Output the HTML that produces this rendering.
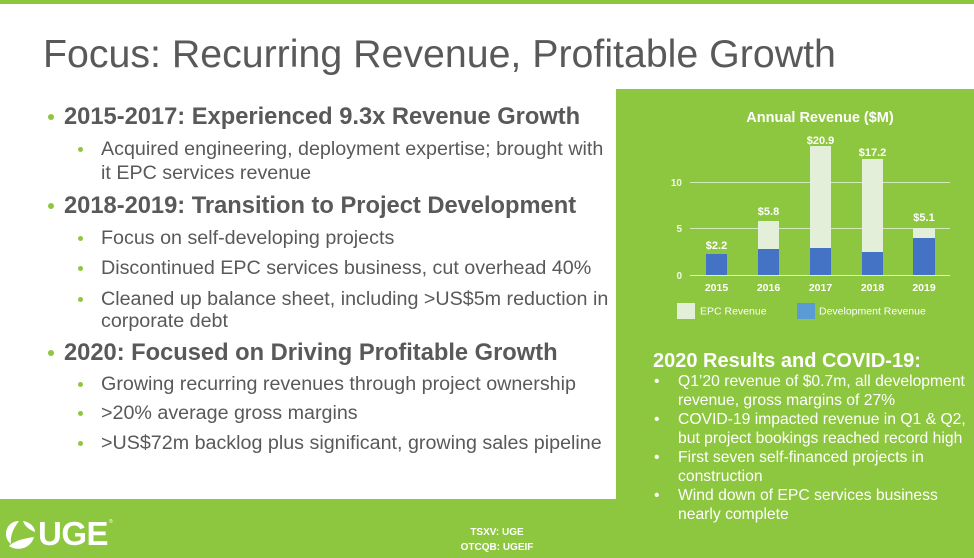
<!DOCTYPE html>
<html>
<head>
<meta charset="utf-8">
<style>
  html,body{margin:0;padding:0;}
  body{width:974px;height:558px;position:relative;overflow:hidden;background:#ffffff;font-family:"Liberation Sans",Arial,sans-serif;}
  .abs{position:absolute;white-space:nowrap;}
  .topbar{position:absolute;left:0;top:0;width:974px;height:4px;background:#8dc63f;}
  .band{position:absolute;left:0;top:499px;width:974px;height:59px;background:#8dc63f;}
  .panel{position:absolute;left:616px;top:89px;width:358px;height:469px;background:#8dc63f;}
  .title{left:43px;top:31px;font-size:39.3px;line-height:46px;color:#595959;}
  .l1{font-size:23.7px;line-height:28px;font-weight:bold;color:#595959;left:64px;}
  .l2{font-size:19.7px;line-height:24px;color:#595959;left:101px;}
  .d1{position:absolute;width:6px;height:6px;border-radius:50%;background:#8dc63f;left:48px;}
  .d2{position:absolute;width:5px;height:5px;border-radius:50%;background:#8dc63f;left:78px;}
  .rh{left:653px;font-size:20px;line-height:24px;font-weight:bold;color:#ffffff;}
  .rt{left:678px;font-size:15.7px;line-height:19px;color:#ffffff;}
  .rb{left:654px;font-size:15.7px;line-height:19px;color:#ffffff;}
  .tick{left:0;width:974px;text-align:center;font-size:10px;font-weight:bold;color:#ffffff;line-height:12px;}
</style>
</head>
<body>
<div class="topbar"></div>
<div class="band"></div>
<div class="panel"></div>

<div class="abs title">Focus: Recurring Revenue, Profitable Growth</div>

<div class="d1" style="top:114px;"></div>
<div class="abs l1" style="top:103px;">2015-2017: Experienced 9.3x Revenue Growth</div>
<div class="d2" style="top:147px;"></div>
<div class="abs l2" style="top:137px;">Acquired engineering, deployment expertise; brought with</div>
<div class="abs l2" style="top:161px;">it EPC services revenue</div>

<div class="d1" style="top:203px;"></div>
<div class="abs l1" style="top:192px;">2018-2019: Transition to Project Development</div>
<div class="d2" style="top:236px;"></div>
<div class="abs l2" style="top:226px;">Focus on self-developing projects</div>
<div class="d2" style="top:266px;"></div>
<div class="abs l2" style="top:256px;">Discontinued EPC services business, cut overhead 40%</div>
<div class="d2" style="top:297px;"></div>
<div class="abs l2" style="top:287px;">Cleaned up balance sheet, including &gt;US$5m reduction in</div>
<div class="abs l2" style="top:309px;">corporate debt</div>

<div class="d1" style="top:350px;"></div>
<div class="abs l1" style="top:339px;">2020: Focused on Driving Profitable Growth</div>
<div class="d2" style="top:382px;"></div>
<div class="abs l2" style="top:372px;">Growing recurring revenues through project ownership</div>
<div class="d2" style="top:411px;"></div>
<div class="abs l2" style="top:401px;">&gt;20% average gross margins</div>
<div class="d2" style="top:441px;"></div>
<div class="abs l2" style="top:431px;">&gt;US$72m backlog plus significant, growing sales pipeline</div>

<!-- Chart -->
<svg class="abs" style="left:0;top:0;" width="974" height="558" viewBox="0 0 974 558" xmlns="http://www.w3.org/2000/svg">
  <g font-family="Liberation Sans, Arial, sans-serif" fill="#ffffff">
    <text x="820" y="122" font-size="14.5" font-weight="bold" text-anchor="middle">Annual Revenue ($M)</text>
    <line x1="690" y1="182.5" x2="950" y2="182.5" stroke="#d3e8b8" stroke-width="1"/>
    <line x1="690" y1="228.5" x2="950" y2="228.5" stroke="#d3e8b8" stroke-width="1"/>
    <line x1="690" y1="275.5" x2="950" y2="275.5" stroke="#e0f0cc" stroke-width="1"/>
    <text x="682" y="186" font-size="10" font-weight="bold" text-anchor="end" fill="#f2f8ea">10</text>
    <text x="682" y="232" font-size="10" font-weight="bold" text-anchor="end" fill="#f2f8ea">5</text>
    <text x="682" y="279" font-size="10" font-weight="bold" text-anchor="end" fill="#f2f8ea">0</text>

    <!-- 2015 -->
    <rect x="706" y="254" width="21" height="21" fill="#4472c4"/>
    <!-- 2016 -->
    <rect x="758" y="221" width="21" height="28" fill="#e4efda"/>
    <rect x="758" y="249" width="21" height="26" fill="#4472c4"/>
    <!-- 2017 -->
    <rect x="810" y="146" width="21" height="102" fill="#e4efda"/>
    <rect x="810" y="248" width="21" height="27" fill="#4472c4"/>
    <!-- 2018 -->
    <rect x="862" y="159" width="21" height="93" fill="#e4efda"/>
    <rect x="862" y="252" width="21" height="23" fill="#4472c4"/>
    <!-- 2019 -->
    <rect x="913" y="228" width="22" height="10" fill="#e4efda"/>
    <rect x="913" y="238" width="22" height="37" fill="#4472c4"/>

    <g font-size="11" font-weight="bold" text-anchor="middle">
      <text x="716.5" y="249">$2.2</text>
      <text x="768.5" y="215">$5.8</text>
      <text x="820.5" y="144">$20.9</text>
      <text x="872.5" y="156">$17.2</text>
      <text x="924" y="221">$5.1</text>
    </g>
    <g font-size="10.5" font-weight="bold" text-anchor="middle">
      <text x="716.5" y="291">2015</text>
      <text x="768.5" y="291">2016</text>
      <text x="820.5" y="291">2017</text>
      <text x="872.5" y="291">2018</text>
      <text x="924" y="291">2019</text>
    </g>
    <rect x="677" y="303" width="18" height="16" fill="#e4efda"/>
    <text x="700" y="314.5" font-size="10.5">EPC Revenue</text>
    <rect x="797" y="303" width="18" height="16" fill="#5b9bd5"/>
    <text x="819" y="314.5" font-size="10.5">Development Revenue</text>
  </g>
</svg>

<div class="abs rh" style="top:349px;">2020 Results and COVID-19:</div>
<div class="abs rb" style="top:372px;">•</div>
<div class="abs rt" style="top:372px;">Q1’20 revenue of $0.7m, all development</div>
<div class="abs rt" style="top:391px;">revenue, gross margins of 27%</div>
<div class="abs rb" style="top:410px;">•</div>
<div class="abs rt" style="top:410px;">COVID-19 impacted revenue in Q1 &amp; Q2,</div>
<div class="abs rt" style="top:429px;">but project bookings reached record high</div>
<div class="abs rb" style="top:448px;">•</div>
<div class="abs rt" style="top:448px;">First seven self-financed projects in</div>
<div class="abs rt" style="top:467px;">construction</div>
<div class="abs rb" style="top:486px;">•</div>
<div class="abs rt" style="top:486px;">Wind down of EPC services business</div>
<div class="abs rt" style="top:505px;">nearly complete</div>

<!-- Logo -->
<svg class="abs" style="left:3px;top:518px;" width="36" height="32" viewBox="0 0 36 32" xmlns="http://www.w3.org/2000/svg">
  <path d="M16 3 C8 3 3 9 3 16 C3 20 5 24 8 26 C7 20 9 12 16 3 Z" fill="#ffffff"/>
  <path d="M20 3 C27 4 32 9 32 14 C27 12 22 9 20 3 Z" fill="#ffffff"/>
  <path d="M6 28 C10 31 17 32 23 29 C27 27 30 23 31 19 C24 20 12 22 6 28 Z" fill="#ffffff"/>
</svg>
<div class="abs" style="left:38px;top:515px;font-size:33px;line-height:38px;font-weight:bold;color:#ffffff;letter-spacing:-0.5px;">UGE</div>
<div class="abs" style="left:109px;top:519px;font-size:5px;line-height:6px;color:#ffffff;">®</div>

<div class="abs tick" style="left:447px;width:100px;top:527px;">TSXV: UGE</div>
<div class="abs tick" style="left:447px;width:100px;top:542px;">OTCQB: UGEIF</div>
</body>
</html>
